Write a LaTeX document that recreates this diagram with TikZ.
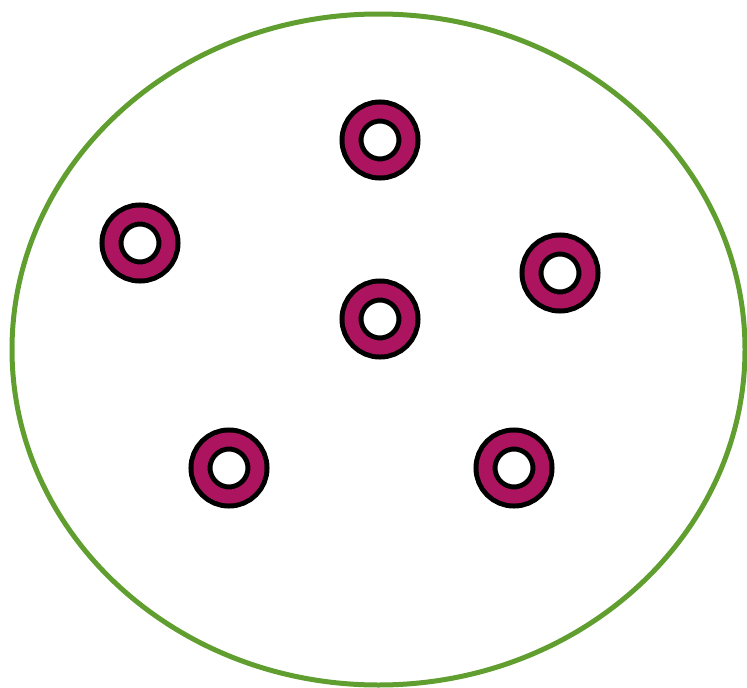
\documentclass[tikz,border=0pt]{standalone}
\usetikzlibrary{shapes.geometric}
\definecolor{ringmag}{RGB}{172,20,96}
\definecolor{setgreen}{RGB}{96,158,48}

\begin{document}
\begin{tikzpicture}[x=1pt, y=-1pt,
	ring/.style={circle, draw=black, line width=5pt, double=ringmag, double distance=14pt, fill=white, minimum size=57pt, inner sep=0pt},
	set/.style={ellipse, draw=setgreen, line width=5pt, minimum width=733pt, minimum height=671pt, inner sep=0pt}]
	\useasboundingbox (0,0) rectangle (747,688);
	\node[set] (set) at (378.5,349.5) {};
	\node[ring] (top) at (380,140) {};
	\node[ring] (left) at (140,243) {};
	\node[ring] (right) at (560,273) {};
	\node[ring] (mid) at (380,319) {};
	\node[ring] (lowleft) at (229,468) {};
	\node[ring] (lowright) at (514,468) {};
\end{tikzpicture}
\end{document}
